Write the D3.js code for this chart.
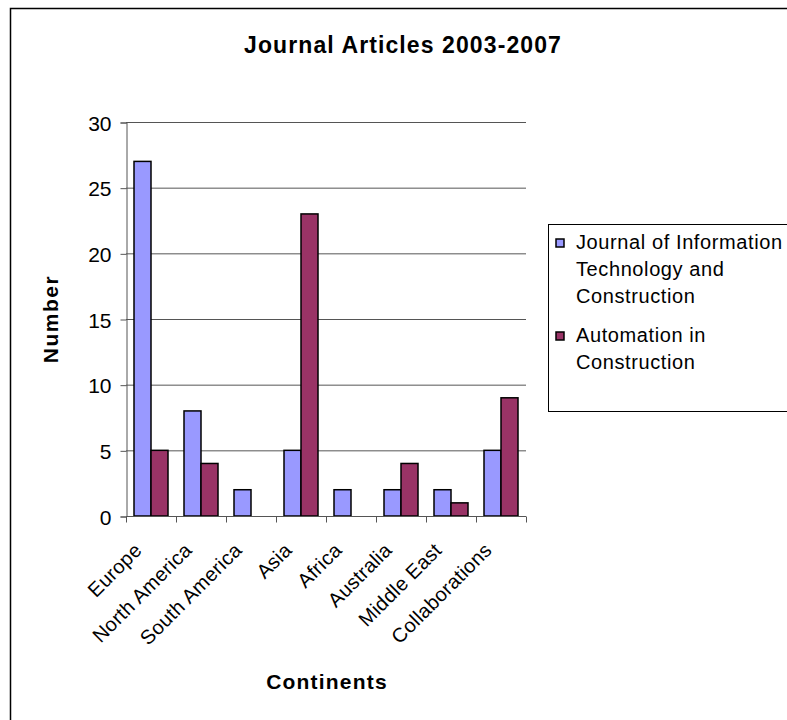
<!DOCTYPE html>
<html>
<head>
  <meta charset="utf-8">
  <script src="https://d3js.org/d3.v7.min.js"></script>
  <style>
    body { margin: 0; background: #fff; }
    text { font-family: "Liberation Sans", Arial, sans-serif; }
  </style>
</head>
<body>
<script>
  var w = 787, h = 720;

  var continents = ["Europe", "North America", "South America", "Asia", "Africa", "Australia", "Middle East", "Collaborations"];
  var seriesNames = ["Journal of Information Technology and Construction", "Automation in Construction"];
  var jitc = [27, 8, 2, 5, 2, 2, 2, 5];
  var aic = [5, 4, 0, 23, 0, 4, 1, 9];
  var yTicks = [0, 5, 10, 15, 20, 25, 30];
  var colors = ["#9999FF", "#993366"];

  var plot = {left: 126, right: 526, top: 122, bottom: 516};

  var svg = d3.select("body").append("svg").attr("width", w).attr("height", h);

  // outer chart border
  svg.append("rect")
    .attr("x", 10.5).attr("y", 8.5)
    .attr("width", w + 20).attr("height", h + 20)
    .attr("fill", "#fff").attr("stroke", "#000").attr("stroke-width", 1.5);

  var x = d3.scaleBand().domain(continents).range([plot.left, plot.right]).paddingInner(0.32).paddingOuter(0.16);
  var xs = d3.scaleBand().domain([0, 1]).range([0, x.bandwidth()]);
  var y = d3.scaleLinear().domain([0, 30]).range([plot.bottom, plot.top]);

  // gridlines
  svg.append("g").selectAll("line")
    .data(yTicks.filter(function(d){return d > 0;}))
    .enter().append("line")
    .attr("x1", plot.left).attr("x2", plot.right)
    .attr("y1", function(d){return y(d) + 0.5;}).attr("y2", function(d){return y(d) + 0.5;})
    .attr("stroke", "#555").attr("stroke-width", 1);

  // y axis
  var yAxis = svg.append("g")
    .attr("transform", "translate(" + (plot.left + 0.5) + ",0.5)")
    .call(d3.axisLeft(y).tickValues(yTicks).tickSize(6).tickPadding(9));
  yAxis.selectAll("path, line").attr("stroke", "#555");
  yAxis.selectAll("text").attr("font-size", "21px").attr("fill", "#000").attr("dy", "0.36em");

  // bars
  var groups = svg.append("g").selectAll("g")
    .data(continents)
    .enter().append("g")
    .attr("transform", function(d){return "translate(" + x(d) + ",0)";});

  groups.selectAll("rect")
    .data(function(d, i){return [jitc[i], aic[i]];})
    .enter().append("rect")
    .filter(function(d){return d > 0;})
    .attr("x", function(d, i){return xs(i);})
    .attr("y", function(d){return y(d);})
    .attr("width", xs.bandwidth())
    .attr("height", function(d){return plot.bottom - y(d);})
    .attr("fill", function(d, i){return colors[i];})
    .attr("stroke", "#000").attr("stroke-width", 1.5);

  // x axis
  var step = (plot.right - plot.left) / continents.length;
  var xAxis = svg.append("g").attr("transform", "translate(0," + (plot.bottom + 0.5) + ")");
  xAxis.append("line").attr("x1", plot.left).attr("x2", plot.right).attr("stroke", "#555");
  xAxis.selectAll(".tk")
    .data(d3.range(continents.length + 1))
    .enter().append("line")
    .attr("x1", function(d){return plot.left + d * step + 0.5;})
    .attr("x2", function(d){return plot.left + d * step + 0.5;})
    .attr("y1", 0).attr("y2", 6).attr("stroke", "#555");
  xAxis.selectAll("text")
    .data(continents)
    .enter().append("text")
    .attr("transform", function(d){return "translate(" + (x(d) + x.bandwidth() / 2 - 8) + ",35) rotate(-45)";})
    .attr("text-anchor", "end")
    .attr("font-size", "20px")
    .attr("letter-spacing", "0.3px")
    .text(function(d){return d;});

  // title and axis titles
  svg.append("text").attr("x", 403).attr("y", 53).attr("text-anchor", "middle")
    .attr("font-size", "23px").attr("font-weight", "bold").attr("letter-spacing", "1.1px")
    .text("Journal Articles 2003-2007");
  svg.append("text").attr("transform", "translate(58,319) rotate(-90)").attr("text-anchor", "middle")
    .attr("font-size", "21px").attr("font-weight", "bold").attr("letter-spacing", "1.5px").text("Number");
  svg.append("text").attr("x", 327).attr("y", 689).attr("text-anchor", "middle")
    .attr("font-size", "21px").attr("font-weight", "bold").attr("letter-spacing", "1.2px").text("Continents");

  // legend
  var legend = svg.append("g");
  legend.append("rect").attr("x", 548.5).attr("y", 224.5).attr("width", 260).attr("height", 187)
    .attr("fill", "#fff").attr("stroke", "#000").attr("stroke-width", 1);
  var legendLines = [["Journal of Information", "Technology and", "Construction"], ["Automation in", "Construction"]];
  var legendTop = [243, 336];
  legendLines.forEach(function(lines, i){
    legend.append("rect").attr("x", 556).attr("y", legendTop[i] - 4).attr("width", 8).attr("height", 8)
      .attr("fill", colors[i]).attr("stroke", "#000").attr("stroke-width", 1.5);
    lines.forEach(function(t, j){
      legend.append("text").attr("x", 576).attr("y", legendTop[i] + 6 + j * 27)
        .attr("font-size", "20px").attr("letter-spacing", "0.6px").text(t);
    });
  });
</script>
</body>
</html>
